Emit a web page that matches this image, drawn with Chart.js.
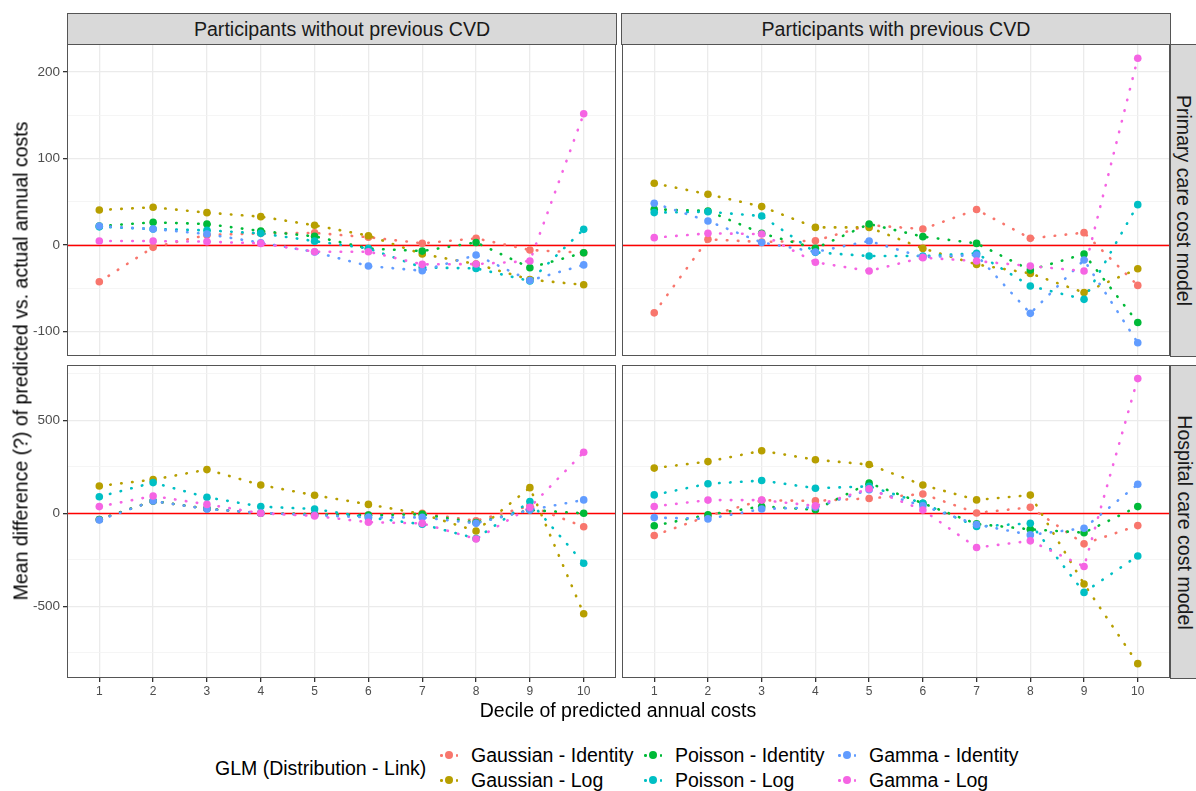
<!DOCTYPE html>
<html>
<head>
<meta charset="utf-8">
<script src="https://cdn.jsdelivr.net/npm/chart.js@4.4.1/dist/chart.umd.min.js"></script>
<style>
body { margin: 0; background: #fff; font-family: "Liberation Sans", Arial, sans-serif; }
#wrap { position: relative; width: 1196px; height: 791px; overflow: hidden; background: #fff; }
canvas { position: absolute; }
.strip { position: absolute; background: #D9D9D9; border: 1px solid #555; box-sizing: border-box;
  color: #1A1A1A; font-size: 19.6px; display: flex; align-items: center; justify-content: center; white-space: nowrap; }
.strip.v span { transform: rotate(90deg); }
.title { position: absolute; font-size: 19.5px; color: #000; white-space: nowrap; }
.lg { position: absolute; font-size: 19.5px; color: #000; white-space: nowrap; line-height: 22px; }
.key { position: absolute; width: 18px; height: 18px; }
.key .dot { position: absolute; left: 5px; top: 5px; width: 8px; height: 8px; border-radius: 50%; }
.key .sm { position: absolute; top: 8px; width: 2.5px; height: 2.5px; border-radius: 50%; }
</style>
</head>
<body>
<div id="wrap">
  <canvas id="tl" width="618" height="316" style="left:0;top:42px"></canvas>
  <canvas id="tr" width="552" height="316" style="left:620px;top:42px"></canvas>
  <canvas id="bl" width="618" height="337" style="left:0;top:363px"></canvas>
  <canvas id="br" width="552" height="337" style="left:620px;top:363px"></canvas>

  <div class="strip" style="left:67px;top:13px;width:550px;height:32px">Participants without previous CVD</div>
  <div class="strip" style="left:621px;top:13px;width:550px;height:32px">Participants with previous CVD</div>
  <div class="strip v" style="left:1170px;top:44px;width:28px;height:313px"><span>Primary care cost model</span></div>
  <div class="strip v" style="left:1170px;top:365px;width:28px;height:314px"><span>Hospital care cost model</span></div>

  <div class="title" style="left:618px;top:699px;transform:translateX(-50%)">Decile of predicted annual costs</div>
  <div class="title" style="left:21px;top:361px;transform:translate(-50%,-50%) rotate(-90deg)">Mean difference (?) of predicted vs. actual annual costs</div>

  <div id="legend"></div>
</div>
<script>
// Deciles on the x axis
const deciles = [1, 2, 3, 4, 5, 6, 7, 8, 9, 10];

const seriesNames = ['Gaussian - Identity', 'Gaussian - Log', 'Poisson - Identity',
                     'Poisson - Log', 'Gamma - Identity', 'Gamma - Log'];
const seriesColors = ['#F8766D', '#B79F00', '#00BA38', '#00BFC4', '#619CFF', '#F564E3'];

// Primary care, participants without previous CVD
const pcNoGaussId  = [-42.5, -2.7, 11.6, 13.5, 14, 9, 2, 7.7, -5.8, -8.9];
const pcNoGaussLog = [40.5, 43.6, 37.4, 32.8, 22.8, 10.8, -10.4, -22, -40, -46];
const pcNoPoisId   = [22, 26.2, 24.3, 16.2, 10, -4, -7, 3, -26.2, -9];
const pcNoPoisLog  = [21, 18.5, 17, 13.5, 4.5, -4, -26, -27, -41.6, 18.1];
const pcNoGammaId  = [22, 18.5, 12.7, 2.7, -8, -24.3, -29.7, -11.6, -41, -23];
const pcNoGammaLog = [4.6, 4.6, 3.9, 1.9, -7.7, -7.7, -22.4, -22, -18.5, 151.7];

// Primary care, participants with previous CVD
const pcCvdGaussId  = [-78.4, 6.6, 3.5, 5, 23, 18.5, 41, 7.7, 14.3, -46.7];
const pcCvdGaussLog = [71.4, 58.7, 44.4, 20.4, 20.4, -3.9, -22.4, -32.8, -55, -27.4];
const pcCvdPoisId   = [41.3, 39.4, 13.5, -3.9, 24.3, 9.7, 1.9, -29, -10.4, -89.6];
const pcCvdPoisLog  = [37.5, 38.5, 33.5, -8.5, -12.7, -12.7, -9.6, -47.4, -62.8, 46.7];
const pcCvdGammaId  = [48.3, 27.7, 3, -8, 4.6, -14, -11.6, -79, -17.3, -113];
const pcCvdGammaLog = [8.5, 13.5, 12.7, -20, -30, -14.6, -18.5, -24.3, -30, 216];

// Hospital care, participants without previous CVD
const hcNoGaussId  = [-33, 66, 25, 0, -5, -10, 0, -40, 40, -72];
const hcNoGaussLog = [147, 181, 235, 152, 97, 48, -4, -95, 138, -540];
const hcNoPoisId   = [-33, 66, 25, 0, -5, -10, -5, -50, 18, 0];
const hcNoPoisLog  = [89, 165, 86, 36, 23, -22, -59, -135, 63, -268];
const hcNoGammaId  = [-36, 66, 23, 2, -10, -22, -22, -54, 18, 72];
const hcNoGammaLog = [36, 93, 48, 0, -14, -48, -54, -138, 32, 328];

// Hospital care, participants with previous CVD
const hcCvdGaussId  = [-119, -15, 70, 67, 80, 104, 2, 32, -164, -66];
const hcCvdGaussLog = [243, 278, 336, 288, 262, 152, 72, 98, -380, -808];
const hcCvdPoisId   = [-67, -8, 37, 19, 162, 54, -57, -86, -104, 36];
const hcCvdPoisLog  = [99, 159, 176, 135, 145, 54, -71, -54, -425, -229];
const hcCvdGammaId  = [-23, -30, 23, 32, 127, 40, -60, -116, -80, 156];
const hcCvdGammaLog = [37, 71, 71, 40, 132, 18, -184, -148, -286, 724];

// y ticks (major = labelled, minor = grid only)
const primaryMajor = [-100, 0, 100, 200];
const primaryMinor = [-50, 50, 150];
const hospitalMajor = [-500, 0, 500];
const hospitalMinor = [-750, -250, 250, 750];

Chart.defaults.font.family = '"Liberation Sans", Arial, sans-serif';

// ggplot-like panel border and zero line
const panelPlugin = {
    id: 'panel',
    beforeDatasetsDraw(chart) {
        const { ctx, chartArea: a, scales } = chart;
        const y0 = Math.round(scales.y.getPixelForValue(0)) + 0.5;
        ctx.save();
        ctx.strokeStyle = '#FF0000';
        ctx.lineWidth = 1.6;
        ctx.beginPath();
        ctx.moveTo(a.left, y0);
        ctx.lineTo(a.right, y0);
        ctx.stroke();
        ctx.restore();
    },
    afterDraw(chart) {
        const { ctx, chartArea: a } = chart;
        ctx.save();
        ctx.strokeStyle = '#555555';
        ctx.lineWidth = 1;
        ctx.strokeRect(a.left + 0.5, a.top + 0.5, a.right - a.left - 1, a.bottom - a.top - 1);
        ctx.restore();
    }
};

function makePanel(id, series, isTop, isLeft) {
    const major = isTop ? primaryMajor : hospitalMajor;
    const minor = isTop ? primaryMinor : hospitalMinor;
    const yTicks = major.concat(minor).sort((a, b) => a - b);

    const datasets = [];
    // dotted lines first (below), then points
    series.forEach((vals, i) => {
        datasets.push({
            label: seriesNames[i],
            data: deciles.map((d, k) => ({ x: d, y: vals[k] })),
            borderColor: seriesColors[i],
            borderWidth: 2.6,
            borderDash: [0.5, 10.5],
            borderCapStyle: 'round',
            pointRadius: 0,
            fill: false,
            tension: 0,
            order: 20 - i
        });
    });
    series.forEach((vals, i) => {
        datasets.push({
            label: seriesNames[i] + ' pts',
            data: deciles.map((d, k) => ({ x: d, y: vals[k] })),
            showLine: false,
            pointRadius: 3.8,
            pointBorderWidth: 0,
            pointBackgroundColor: seriesColors[i],
            order: 10 - i
        });
    });

    new Chart(document.getElementById(id), {
        type: 'line',
        data: { datasets: datasets },
        options: {
            responsive: false,
            animation: false,
            devicePixelRatio: 1,
            layout: { autoPadding: false, padding: { top: 2, bottom: 2, left: isLeft ? 0 : 2, right: 2 } },
            plugins: { legend: { display: false }, tooltip: { enabled: false } },
            scales: {
                x: {
                    type: 'linear',
                    min: 0.4,
                    max: 10.6,
                    afterBuildTicks: s => { s.ticks = deciles.map(v => ({ value: v })); },
                    afterFit: s => {
                        s.height = isTop ? 0 : 20;
                        s.paddingLeft = 0; s.paddingRight = 0;
                    },
                    border: { display: false },
                    grid: { color: '#EBEBEB', lineWidth: 1.3, drawTicks: !isTop, tickLength: 4, tickColor: '#333333' },
                    ticks: { display: !isTop, color: '#4D4D4D', font: { size: 12 }, padding: 2, maxRotation: 0, autoSkip: false }
                },
                y: {
                    type: 'linear',
                    min: isTop ? -128.3 : -885,
                    max: isTop ? 232.4 : 797,
                    afterBuildTicks: s => { s.ticks = yTicks.map(v => ({ value: v })); },
                    afterFit: s => {
                        s.width = isLeft ? 67 : 0;
                        s.paddingTop = 0; s.paddingBottom = 0;
                    },
                    border: { display: false },
                    grid: {
                        color: ctx => major.includes(ctx.tick.value) ? '#EBEBEB' : '#F2F2F2',
                        lineWidth: ctx => major.includes(ctx.tick.value) ? 1.3 : 0.8,
                        drawTicks: isLeft,
                        tickLength: 4,
                        tickColor: ctx => major.includes(ctx.tick.value) ? '#333333' : 'rgba(0,0,0,0)'
                    },
                    ticks: {
                        display: isLeft,
                        color: '#4D4D4D',
                        font: { size: 13.5 },
                        padding: 3,
                        autoSkip: false,
                        callback: v => major.includes(v) ? String(v) : ''
                    }
                }
            }
        },
        plugins: [panelPlugin]
    });
}

makePanel('tl', [pcNoGaussId, pcNoGaussLog, pcNoPoisId, pcNoPoisLog, pcNoGammaId, pcNoGammaLog], true, true);
makePanel('tr', [pcCvdGaussId, pcCvdGaussLog, pcCvdPoisId, pcCvdPoisLog, pcCvdGammaId, pcCvdGammaLog], true, false);
makePanel('bl', [hcNoGaussId, hcNoGaussLog, hcNoPoisId, hcNoPoisLog, hcNoGammaId, hcNoGammaLog], false, true);
makePanel('br', [hcCvdGaussId, hcCvdGaussLog, hcCvdPoisId, hcCvdPoisLog, hcCvdGammaId, hcCvdGammaLog], false, false);

// Legend (3 columns x 2 rows, ggplot style)
const legend = document.getElementById('legend');
const legendTitle = document.createElement('div');
legendTitle.className = 'lg';
legendTitle.style.left = '215px';
legendTitle.style.top = '757px';
legendTitle.textContent = 'GLM (Distribution - Link)';
legend.appendChild(legendTitle);

const keyX = [449, 653, 847];
const rowY = [755, 780];
seriesNames.forEach((name, i) => {
    const col = Math.floor(i / 2), row = i % 2;
    const key = document.createElement('div');
    key.className = 'key';
    key.style.left = (keyX[col] - 9) + 'px';
    key.style.top = (rowY[row] - 9) + 'px';
    key.innerHTML = '<span class="sm" style="left:0;background:' + seriesColors[i] + '"></span>' +
        '<span class="dot" style="background:' + seriesColors[i] + '"></span>' +
        '<span class="sm" style="left:15.5px;background:' + seriesColors[i] + '"></span>';
    legend.appendChild(key);
    const lab = document.createElement('div');
    lab.className = 'lg';
    lab.style.left = (keyX[col] + 22) + 'px';
    lab.style.top = (rowY[row] - 11) + 'px';
    lab.textContent = name;
    legend.appendChild(lab);
});
</script>
</body>
</html>
